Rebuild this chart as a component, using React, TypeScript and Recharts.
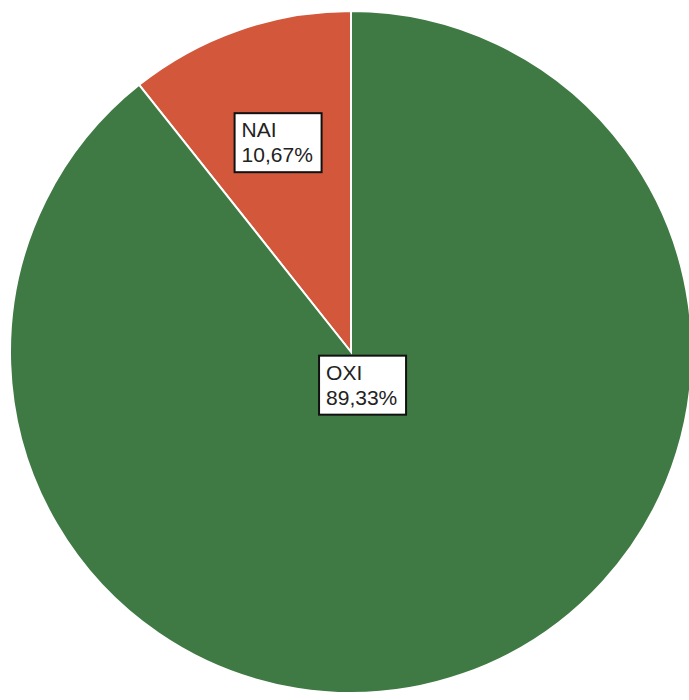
import React from "react";
import { PieChart, Pie, Cell } from "recharts";

const categories = ["NAI", "OXI"];
const values = [10.67, 89.33];
const colors = ["#d2573b", "#3f7a44"];

const data = categories.map((name, i) => ({ name, value: values[i] }));

const RADIAN = Math.PI / 180;

const renderLabel = (props: any) => {
  const { cx, cy, midAngle, outerRadius, index, name, value } = props;
  const factor = index === 0 ? 0.65 : 0.103;
  const r = outerRadius * factor;
  const x = cx + r * Math.cos(-midAngle * RADIAN);
  const y = cy + r * Math.sin(-midAngle * RADIAN);
  const w = 87;
  const h = 59;
  const left = x - w / 2;
  const top = y - h / 2;
  const pct = value.toFixed(2).replace(".", ",") + "%";
  return (
    <g>
      <rect x={left} y={top} width={w} height={h} fill="#ffffff" stroke="#111" strokeWidth={2} />
      <text x={left + 7} y={top + 24} fontSize={21} fill="#222" fontFamily="Liberation Sans, Arial, sans-serif">
        {name}
      </text>
      <text x={left + 7} y={top + 49} fontSize={21} fill="#222" fontFamily="Liberation Sans, Arial, sans-serif">
        {pct}
      </text>
    </g>
  );
};

export default function App() {
  return (
    <div style={{ position: "fixed", left: 0, top: 0, width: 689, height: 700, background: "#fff" }}>
      <PieChart width={689} height={700} margin={{ top: 0, right: 0, bottom: 0, left: 0 }}>
        <Pie
          data={data}
          dataKey="value"
          nameKey="name"
          cx={351}
          cy={352}
          outerRadius={341}
          startAngle={90}
          endAngle={450}
          stroke="#ffffff"
          strokeWidth={2}
          label={renderLabel}
          labelLine={false}
          isAnimationActive={false}
        >
          {data.map((d, i) => (
            <Cell key={d.name} fill={colors[i]} />
          ))}
        </Pie>
      </PieChart>
    </div>
  );
}
